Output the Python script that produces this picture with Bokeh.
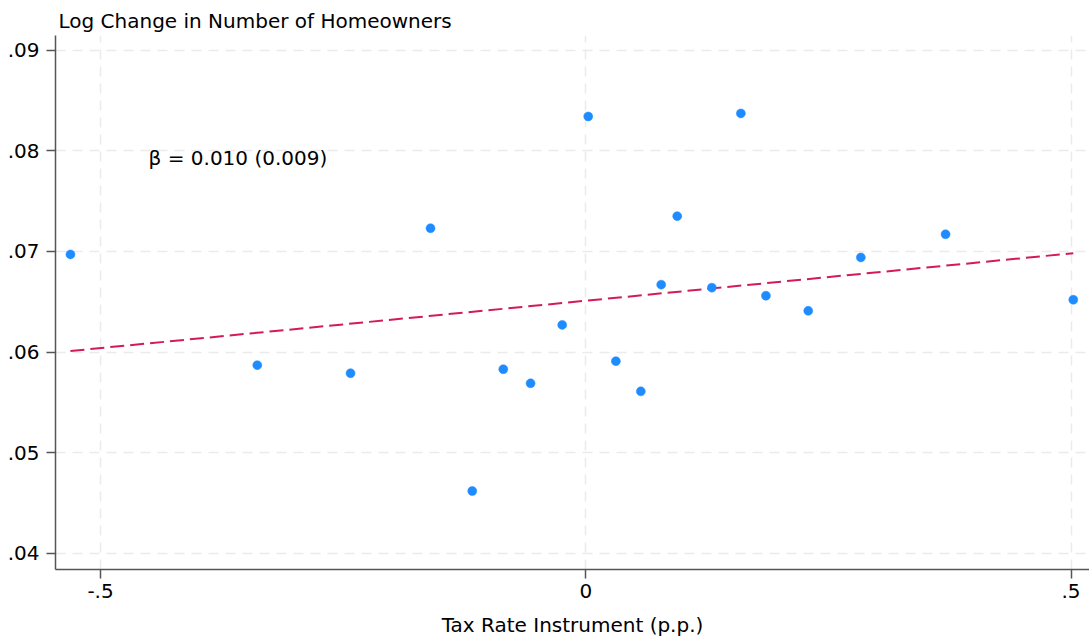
from bokeh.plotting import figure
from bokeh.models import Range1d, FixedTicker, Label
from bokeh.embed import file_html
from bokeh.resources import INLINE

# ---- data ----
x_bins = [-0.531, -0.3385, -0.2424, -0.160, -0.117, -0.085, -0.0569, -0.0243, 0.0025, 0.031,
          0.0567, 0.0777, 0.0942, 0.1299, 0.1598, 0.1856, 0.2292, 0.2834, 0.3707, 0.5023]
y_bins = [0.0697, 0.0587, 0.0579, 0.0723, 0.0462, 0.0583, 0.0569, 0.0627, 0.0834, 0.0591,
          0.0561, 0.0667, 0.0735, 0.0664, 0.0837, 0.0656, 0.0641, 0.0694, 0.0717, 0.0652]
fit_intercept = 0.0651
fit_slope = 0.0094
x_ticks = [-0.5, 0.0, 0.5]
x_tick_labels = ["-.5", "0", ".5"]
y_ticks = [0.04, 0.05, 0.06, 0.07, 0.08, 0.09]
y_tick_labels = [".04", ".05", ".06", ".07", ".08", ".09"]
title_text = "Log Change in Number of Homeowners"
x_label = "Tax Rate Instrument (p.p.)"
beta_text = "\u03b2 = 0.010 (0.009)"

FONT = "DejaVu Sans"
FS = "20px"

p = figure(width=1089, height=644, output_backend="svg", toolbar_location=None,
           x_range=Range1d(-0.5464, 0.519), y_range=Range1d(0.03841, 0.09144),
           min_border_left=55, min_border_right=0, min_border_top=35, min_border_bottom=75)
p.outline_line_color = None
p.background_fill_color = "white"
p.border_fill_color = "white"

# title
p.title.text = title_text
p.title.align = "left"
p.title.text_font = FONT
p.title.text_font_size = FS
p.title.text_font_style = "normal"
p.title.text_color = "black"
p.title.standoff = 6
p.title.offset = 3

# axes
for ax in (p.xaxis[0], p.yaxis[0]):
    ax.axis_line_color = "#555555"
    ax.axis_line_width = 1.5
    ax.major_tick_line_color = "#555555"
    ax.major_tick_line_width = 1.5
    ax.major_tick_out = 9
    ax.major_tick_in = 0
    ax.minor_tick_line_color = None
    ax.major_label_text_font = FONT
    ax.major_label_text_font_size = FS
    ax.major_label_text_color = "black"

p.xaxis.ticker = FixedTicker(ticks=x_ticks)
p.yaxis.ticker = FixedTicker(ticks=y_ticks)
p.xaxis.major_label_overrides = dict(zip(x_ticks, x_tick_labels))
p.yaxis.major_label_overrides = dict(zip(y_ticks, y_tick_labels))
p.xaxis.major_label_standoff = 5
p.yaxis.major_label_standoff = 7
p.yaxis.major_label_orientation = "horizontal"

p.xaxis.axis_label = x_label
p.xaxis.axis_label_text_font = FONT
p.xaxis.axis_label_text_font_size = FS
p.xaxis.axis_label_text_font_style = "normal"
p.xaxis.axis_label_text_color = "black"
p.xaxis.axis_label_standoff = 12

# grid
for g in (p.xgrid[0], p.ygrid[0]):
    g.grid_line_color = "#ebebeb"
    g.grid_line_width = 1.5
    g.grid_line_dash = "10 7"

# fit line
x0, x1 = min(x_bins), max(x_bins)
p.line([x0, x1], [fit_intercept + fit_slope * x0, fit_intercept + fit_slope * x1],
       line_color="#d31a5c", line_width=2, line_dash="14 6")

# binned points
p.scatter(x_bins, y_bins, size=9, fill_color="#1e8cff", line_color="#1e8cff", line_width=0.5)

# beta annotation
p.add_layout(Label(x=-0.4505, y=0.0793, text=beta_text, text_font=FONT,
                   text_font_size=FS, text_color="black", text_baseline="alphabetic"))

open("out.html", "w").write(file_html(p, INLINE))
